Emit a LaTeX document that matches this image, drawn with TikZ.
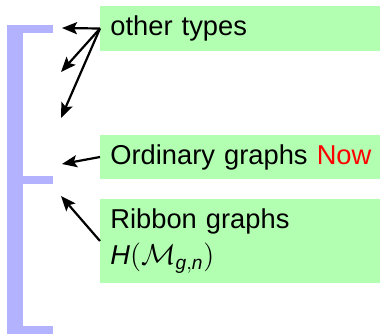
\documentclass[tikz,border=0pt]{standalone}
\usepackage{fontspec}
\setmainfont{Liberation Sans}
\usetikzlibrary{arrows.meta}

\begin{document}
\begin{tikzpicture}[x=0.5pt, y=-0.5pt,
	box/.style = {fill=green!30, anchor=west, text width=136pt,
		inner xsep=5pt, align=left, font=\fontsize{13.65}{18}\selectfont},
	bar/.style = {fill=blue!30, draw=none},
	arr/.style = {-{Stealth[length=7.5pt, width=6pt, inset=1.5pt]}, line width=1.1pt}]
	\useasboundingbox (0,0) rectangle (380,334);
	% bracket
	\fill[bar] (7,25) rectangle (23,334);
	\fill[bar] (7,25) rectangle (53,32.5);
	\fill[bar] (7,176) rectangle (53,183.5);
	\fill[bar] (7,326) rectangle (53,334);
	% boxes
	\node[box, minimum height=22.5pt] (other) at (100,28.5) {other types};
	\node[box, minimum height=22pt] (ordinary) at (100,157) {Ordinary graphs \textcolor{red}{Now}};
	\node[box, minimum height=42pt] (ribbon) at (100,241) {Ribbon graphs\\ $\mathit{H}\mathrm{(}\mathcal{M}_{\mathit{g,n}}\mathrm{)}$};
	% arrow ends
	\coordinate (t1) at (62,28);
	\coordinate (t2) at (61,72);
	\coordinate (t3) at (61,118);
	\coordinate (t4) at (62,164);
	\coordinate (t5) at (61,196);
	\draw[arr] (other.west) -- (t1);
	\draw[arr] (other.west) -- (t2);
	\draw[arr] (other.west) -- (t3);
	\draw[arr] (ordinary.west) -- (t4);
	\draw[arr] (ribbon.west) -- (t5);
\end{tikzpicture}
\end{document}
